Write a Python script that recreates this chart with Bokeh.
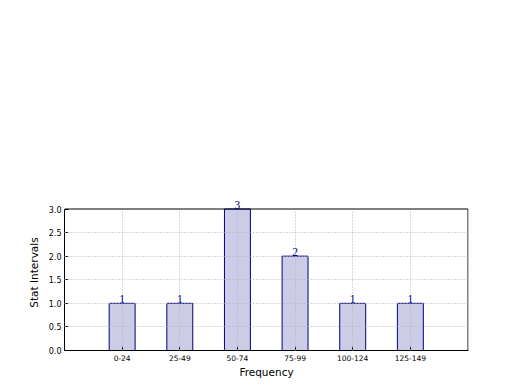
from bokeh.plotting import figure
from bokeh.models import Range1d, FixedTicker, ColumnDataSource, LabelSet, Grid
from bokeh.embed import file_html
from bokeh.resources import INLINE

categories = ["0-24", "25-49", "50-74", "75-99", "100-124", "125-149"]
counts = [1, 1, 3, 2, 1, 1]
y_ticks = [0.0, 0.5, 1.0, 1.5, 2.0, 2.5, 3.0]
y_max = 3.0

xs = list(range(len(categories)))
src = ColumnDataSource(dict(x=xs, top=counts, label=[str(c) for c in counts]))

x_lo, x_hi = -1, len(categories)
# frame extended a little up/right so the value label of the tallest bar is not clipped
FW, FH = 404, 156
x_end = x_lo + (x_hi - x_lo) * FW / 403.5
y_end = y_max * FH / 141.5
p = figure(frame_width=FW, frame_height=FH, output_backend="svg", toolbar_location=None,
           x_range=Range1d(x_lo, x_end), y_range=Range1d(0, y_end),
           min_border_left=64, min_border_right=52, min_border_top=194, min_border_bottom=40)
p.background_fill_color = "white"
p.border_fill_color = "white"
p.outline_line_color = None

p.vbar(x="x", top="top", width=0.45, bottom=0, source=src,
       fill_color="navy", fill_alpha=0.2, line_color="navy", line_width=1)

# top and right border of the axes box
p.segment(x0=[x_lo, x_hi], y0=[y_max, 0], x1=[x_hi, x_hi], y1=[y_max, y_max],
          line_color="black", line_width=1)

labels = LabelSet(x="x", y="top", text="label", source=src, text_align="center",
                  text_baseline="alphabetic", y_offset=0, text_color="navy",
                  text_font_size="11.5px", text_font="DejaVu Sans")
p.add_layout(labels)

font = "DejaVu Sans"
p.xaxis.ticker = FixedTicker(ticks=xs)
p.xaxis.major_label_overrides = {i: c for i, c in enumerate(categories)}
p.yaxis.ticker = FixedTicker(ticks=y_ticks)
p.yaxis.major_label_overrides = {t: f"{t:.1f}" for t in y_ticks}
for ax in (p.xaxis[0], p.yaxis[0]):
    ax.major_tick_in = 4
    ax.major_tick_out = 0
    ax.minor_tick_line_color = None
    ax.axis_line_color = "black"
    ax.major_label_text_font = font
    ax.major_label_text_color = "black"
    ax.axis_label_text_font = font
    ax.axis_label_text_font_style = "normal"
    ax.axis_label_text_font_size = "10.5px"
    ax.axis_label_text_color = "black"
p.xaxis.bounds = (x_lo, x_hi)
p.yaxis.bounds = (0, y_max)
p.xaxis.major_label_text_font_size = "7.5px"
p.yaxis.major_label_text_font_size = "8px"
p.xaxis.axis_label = "Frequency"
p.yaxis.axis_label = "Stat Intervals"
p.xaxis.major_label_standoff = 4
p.yaxis.major_label_standoff = 3
p.xaxis.axis_label_standoff = 2
p.yaxis.axis_label_standoff = 6

for g in (p.xgrid[0], p.ygrid[0]):
    g.level = "guide"
    g.grid_line_color = "#b4b4b4"
    g.grid_line_dash = "1 2"
    g.grid_line_width = 1
p.xgrid.ticker = FixedTicker(ticks=xs)
p.ygrid.ticker = FixedTicker(ticks=y_ticks[1:-1])
if "cross_bounds" in Grid.properties():
    p.xgrid.cross_bounds = (0, y_max)
    p.ygrid.cross_bounds = (x_lo, x_hi)

open("out.html", "w").write(file_html(p, INLINE))
